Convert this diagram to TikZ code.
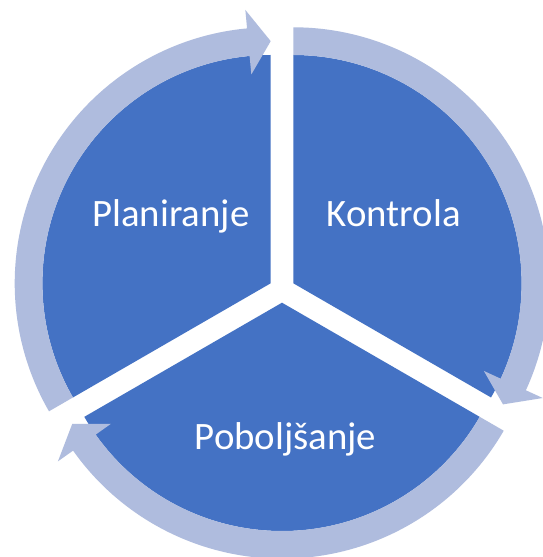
\documentclass[tikz,border=0pt]{standalone}
\usepackage{fontspec}
\setmainfont{Carlito}
\definecolor{segblue}{RGB}{68,114,196}
\definecolor{arrowlight}{RGB}{175,188,222}
\newcommand\cycarrow[3]{%
  \pgfmathsetmacro\hb{#3+5.3}%
  \fill[arrowfill, shift={(#1)}] (#2:228.3pt)
    arc[start angle=#2, end angle=\hb, radius=228.3pt]
    -- (\hb:209.75pt) -- (#3:242.15pt) -- (\hb:274.55pt) -- (\hb:256pt)
    arc[start angle=\hb, end angle=#2, radius=256pt] -- cycle;}
\newcommand\segsector[3]{%
  \fill[sectorfill, shift={(#1)}] (0,0) -- (#2:228.3pt)
    arc[start angle=#2, end angle=#3, radius=228.3pt] -- cycle;}
\begin{document}
\begin{tikzpicture}[x=1pt,y=1pt,
  sectorfill/.style={fill=segblue},
  arrowfill/.style={fill=arrowlight},
  label/.style={text=white, font=\fontsize{38.8}{40}\selectfont, anchor=base, inner sep=0pt}]
\useasboundingbox (0,0) rectangle (542,557);
\fill[white] (0,0) rectangle (542,557);
\coordinate (V1) at (270.7,273.7);
\coordinate (V2) at (293.3,273.7);
\coordinate (V3) at (282,254.3);
\segsector{V1}{90}{210}
\segsector{V2}{-30}{90}
\segsector{V3}{210}{330}
\cycarrow{V1}{210}{90}
\cycarrow{V2}{90}{-30}
\cycarrow{V3}{330}{210}
\node[label] (plan) at (170.8,330.3) {Planiranje};
\node[label] (kontr) at (393.7,330.3) {Kontrola};
\node[label] (pobo) at (285.5,107.7) {Poboljšanje};
\end{tikzpicture}
\end{document}
